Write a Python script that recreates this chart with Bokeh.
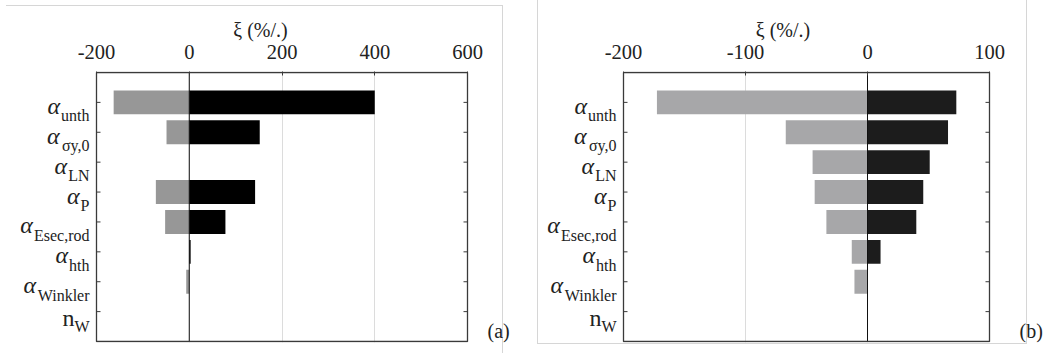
import math
from bokeh.plotting import figure
from bokeh.models import Range1d, FixedTicker
from bokeh.core.properties import value
from bokeh.layouts import row
from bokeh.embed import file_html
from bokeh.resources import INLINE

# ---- data -------------------------------------------------------------
param_base = ["α", "α", "α", "α", "α", "α", "α", "n"]
param_sub = ["unth", "σy,0", "LN", "P", "Esec,rod", "hth", "Winkler", "W"]
positions = [1, 2, 3, 4, 5, 6, 7, 8]

a_neg = [-163, -49, 0, -72, -52, 0, -6.5, 0]
a_pos = [400, 152, 0, 142, 78, 3, 0, 0]
a_ticks = [-200, 0, 200, 400, 600]

b_neg = [-172.6, -67, -45, -43.3, -33.7, -12.9, -10.7, 0]
b_pos = [72.8, 66, 51, 45.7, 40, 10.7, 0, 0]
b_ticks = [-200, -100, 0, 100]

x_title = "ξ (%/.)"
tags = ["(a)", "(b)"]

FONT = "Liberation Serif"
TXT = "#222222"
LINE = "#3a3a3a"
PAGE_LINE = "#d6d6d6"

# approximate Times advance widths (em) to place the subscript after the base symbol
W_EM = {"u": .5, "n": .5, "t": .278, "h": .5, "σ": .55, "y": .5, ",": .25, "0": .5,
        "L": .611, "N": .722, "P": .556, "E": .611, "s": .389, "e": .444, "c": .444,
        "r": .333, "o": .5, "d": .5, "W": .944, "i": .278, "k": .5, "l": .278}


def text_width(s, size):
    return sum(W_EM.get(ch, 0.5) for ch in s) * size


def css_lines(lines):
    parts = [f"linear-gradient({PAGE_LINE},{PAGE_LINE}) {x}px {y}px / {w}px {h}px no-repeat"
             for (x, y, w, h) in lines]
    return ", ".join(parts + ["white"])


def make_panel(neg, pos, ticks, neg_color, pos_color, tag, box_left, box_width,
               fig_width, tag_dx, page_lines):
    xmin, xmax = ticks[0], ticks[-1]
    scale = box_width / (xmax - xmin)
    x_start = xmin - box_left / scale
    x_end = xmax + (fig_width - box_left - box_width) / scale
    n = len(positions)
    eps = 1.0 / 30.0
    p = figure(frame_width=fig_width, frame_height=271,
               x_range=Range1d(x_start, x_end), y_range=Range1d(n + 1 + eps, 0 - eps),
               x_axis_location="above", y_axis_location=None,
               output_backend="svg", toolbar_location=None,
               min_border_left=0, min_border_right=0,
               min_border_top=71, min_border_bottom=11)
    p.outline_line_color = None
    p.background_fill_color = None
    p.border_fill_color = None
    p.styles = {"background": css_lines(page_lines)}

    # title used as axis label (centred over the box)
    p.title.text = x_title
    p.title.align = "center"
    p.title.offset = box_left + box_width / 2 - fig_width / 2
    p.title.text_font = FONT
    p.title.text_font_size = "20px"
    p.title.text_font_style = "normal"
    p.title.text_color = TXT
    p.title.standoff = 2

    xa = p.xaxis[0]
    xa.ticker = FixedTicker(ticks=ticks)
    xa.major_label_overrides = {t: str(t) for t in ticks}
    xa.major_tick_in = 4
    xa.major_tick_out = 0
    xa.minor_tick_in = 0
    xa.minor_tick_out = 0
    xa.axis_line_color = None
    xa.major_tick_line_color = LINE
    xa.major_label_text_font = FONT
    xa.major_label_text_font_size = "20.5px"
    xa.major_label_text_color = TXT
    xa.major_label_standoff = 13

    p.xgrid.ticker = FixedTicker(ticks=ticks[1:-1])
    p.xgrid.grid_line_color = "#dcdcdc"
    p.xgrid.grid_line_width = 1
    p.ygrid.visible = False

    p.hbar(y=positions, left=0, right=neg, height=0.8, fill_color=neg_color, line_color=None)
    p.hbar(y=positions, left=0, right=pos, height=0.8, fill_color=pos_color, line_color=None)
    p.segment(x0=[0], y0=[0], x1=[0], y1=[n + 1], line_color="#111111", line_width=1)

    # box and inward ticks on both sides
    p.quad(left=[xmin], right=[xmax], top=[0], bottom=[n + 1], fill_color=None,
           line_color=LINE, line_width=1.3)
    p.ray(x=[xmin] * n, y=positions, length=4, length_units="screen", angle=0,
          line_color=LINE, line_width=1)
    p.ray(x=[xmax] * n, y=positions, length=4, length_units="screen", angle=math.pi,
          line_color=LINE, line_width=1)

    # category labels: base symbol + subscript
    sub_x_off = [-7] * n
    sub_y_off = [13.5 if b == "α" else 14.5 for b in param_base]
    base_x_off = [-7 - text_width(s, 16) - (1 if b == "α" else 0)
                  for b, s in zip(param_base, param_sub)]
    base_y_off = [3.5 if b == "α" else 6 for b in param_base]
    base_style = ["italic" if b == "α" else "normal" for b in param_base]
    p.text(x=[xmin] * n, y=positions, text=param_sub, x_offset=sub_x_off, y_offset=sub_y_off,
           text_align="right", text_baseline="alphabetic", text_font=value(FONT),
           text_font_size=value("16px"), text_color=TXT)
    p.text(x=[xmin] * n, y=positions, text=param_base, x_offset=base_x_off, y_offset=base_y_off,
           text_align="right", text_baseline="alphabetic", text_font=value(FONT),
           text_font_style=base_style,
           text_font_size=value("24px"), text_color=TXT)

    p.text(x=[xmax], y=[n + 1], text=[tag], x_offset=tag_dx, y_offset=-11,
           text_align="left", text_baseline="alphabetic", text_font=value(FONT),
           text_font_size=value("20px"), text_color=TXT)
    return p


pa = make_panel(a_neg, a_pos, a_ticks, "#979797", "#000000", tags[0], 96, 371, 520, 20,
                [(6, 5, 497, 1), (502, 5, 1, 348)])
pb = make_panel(b_neg, b_pos, b_ticks, "#a7a7a9", "#1c1c1c", tags[1], 103, 366, 525, 30,
                [(17, 0, 1, 343), (17, 343, 490, 1), (506, 0, 1, 343)])

layout = row(pa, pb)
open("out.html", "w").write(file_html(layout, INLINE))
